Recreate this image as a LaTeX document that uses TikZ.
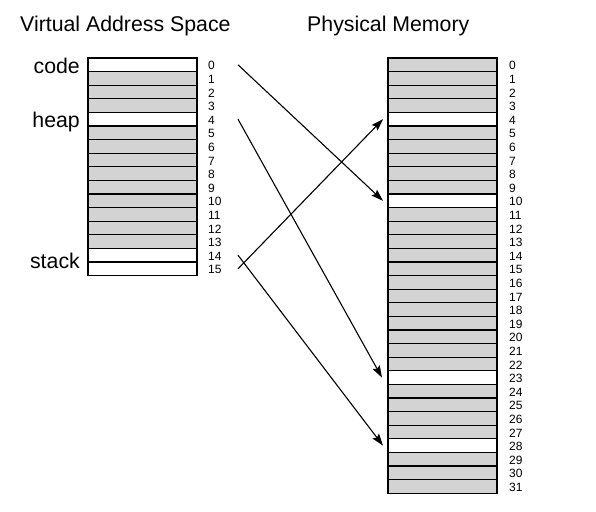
\documentclass[tikz,border=0pt]{standalone}
\usepackage{fontspec}
\setmainfont{Liberation Sans}
\usetikzlibrary{arrows.meta}
\definecolor{cellgray}{HTML}{D3D3D3}
\begin{document}
\begin{tikzpicture}[x=1pt,y=-1pt,
  cell/.style={draw=black, line width=1.2pt, minimum width=109pt, minimum height=13.6pt,
    inner sep=0pt, outer sep=0pt, anchor=north west},
  num/.style={font=\fontsize{12}{12}\selectfont, anchor=west, inner sep=0pt},
  titletext/.style={font=\fontsize{21.3}{24}\selectfont, anchor=base west, inner sep=0pt},
  seglabel/.style={font=\fontsize{21.3}{24}\selectfont, anchor=base east, inner sep=0pt},
  map/.style={line width=1.1pt, -{Stealth[length=12pt,width=8pt,inset=2pt]}}]
\useasboundingbox (0,0) rectangle (596,511);

\node[titletext] (tv) at (20,31.5) {Virtual Address Space};
\node[titletext] (tp) at (307,31.5) {Physical Memory};

\foreach \i in {0,...,15}{
  \pgfmathsetmacro\yy{58+13.6*\i}
  \pgfmathtruncatemacro\w{(\i==0)+(\i==4)+(\i==14)+(\i==15)}
  \ifnum\w>0 \def\fc{white}\else\def\fc{cellgray}\fi
  \node[cell, fill=\fc] (v\i) at (88,\yy) {};
  \node[num] (vn\i) at (208,\yy+7.8) {\i};
}
\foreach \i in {0,...,31}{
  \pgfmathsetmacro\yy{58+13.6*\i}
  \pgfmathtruncatemacro\w{(\i==4)+(\i==10)+(\i==23)+(\i==28)}
  \ifnum\w>0 \def\fc{white}\else\def\fc{cellgray}\fi
  \node[cell, fill=\fc] (p\i) at (388,\yy) {};
  \node[num] (pn\i) at (509,\yy+7.8) {\i};
}

\node[seglabel] (lcode) at ([xshift=-8pt,yshift=-1.5pt]v0.south west) {code};
\node[seglabel] (lheap) at ([xshift=-8pt,yshift=-1pt]v4.south west) {heap};
\node[seglabel] (lstack) at ([xshift=-8pt,yshift=-6pt]v14.south west) {stack};

\draw[map] ([xshift=41pt]v0.east) -- ([xshift=-5pt]p10.west);
\draw[map] ([xshift=41pt]v4.east) -- ([xshift=-6pt]p23.west);
\draw[map] ([xshift=41pt]v14.east) -- ([xshift=-5pt]p28.west);
\draw[map] ([xshift=41pt]v15.east) -- ([xshift=-5pt]p4.west);
\end{tikzpicture}
\end{document}
